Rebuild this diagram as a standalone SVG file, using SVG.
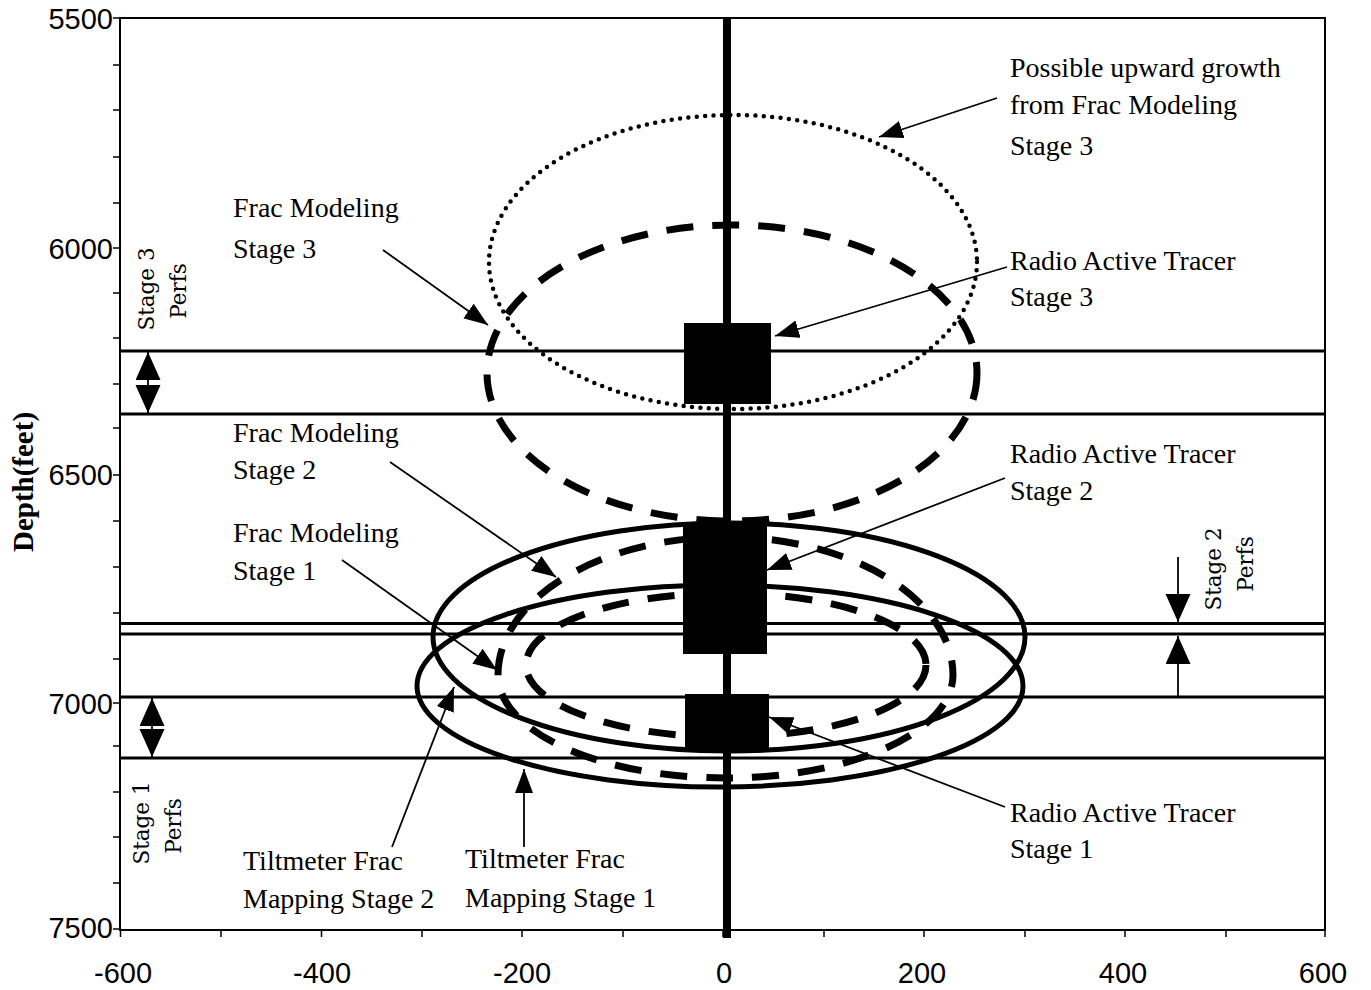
<svg xmlns="http://www.w3.org/2000/svg" width="1371" height="990" viewBox="0 0 1371 990">
<style>
.t{font-family:"Liberation Serif","Times New Roman",serif;font-size:28px;fill:#000}
.r{font-family:"DejaVu Serif",serif;font-size:21.5px;fill:#000;text-anchor:middle}
.ax{font-family:"Liberation Sans",Arial,sans-serif;font-size:29px;fill:#000}
.lead{stroke:#000;stroke-width:1.8;fill:none}
.perf{stroke:#000;stroke-width:3;fill:none}
.sol{stroke:#000;stroke-width:5;fill:none}
.dash{stroke:#000;stroke-width:7;fill:none;stroke-dasharray:27 19}
.dot{stroke:#000;stroke-width:4.5;fill:none;stroke-dasharray:0 8.4;stroke-linecap:round}
</style>
<defs>
<marker id="ah" markerUnits="userSpaceOnUse" markerWidth="26" markerHeight="20" refX="24" refY="9" orient="auto"><path d="M0,0 L24,9 L0,18 z" fill="#000"/></marker>
<marker id="big" markerUnits="userSpaceOnUse" markerWidth="30" markerHeight="26" refX="28" refY="12.5" orient="auto-start-reverse"><path d="M0,0 L28,12.5 L0,25 z" fill="#000"/></marker>
</defs>
<rect width="1371" height="990" fill="#fff"/>

<g id="axes">
<rect x="120" y="18" width="1205" height="912" fill="none" stroke="#000" stroke-width="2"/>
<g stroke="#000" stroke-width="1.5">
<line x1="113" y1="18" x2="120" y2="18"/><line x1="113" y1="65" x2="120" y2="65"/><line x1="113" y1="110" x2="120" y2="110"/><line x1="113" y1="157" x2="120" y2="157"/><line x1="113" y1="203" x2="120" y2="203"/><line x1="113" y1="248" x2="120" y2="248"/><line x1="113" y1="293" x2="120" y2="293"/><line x1="113" y1="338" x2="120" y2="338"/><line x1="113" y1="384" x2="120" y2="384"/><line x1="113" y1="428" x2="120" y2="428"/><line x1="113" y1="475" x2="120" y2="475"/><line x1="113" y1="521" x2="120" y2="521"/><line x1="113" y1="567" x2="120" y2="567"/><line x1="113" y1="613" x2="120" y2="613"/><line x1="113" y1="659" x2="120" y2="659"/><line x1="113" y1="703" x2="120" y2="703"/><line x1="113" y1="746" x2="120" y2="746"/><line x1="113" y1="792" x2="120" y2="792"/><line x1="113" y1="837" x2="120" y2="837"/><line x1="113" y1="883" x2="120" y2="883"/><line x1="113" y1="929" x2="120" y2="929"/>
<line x1="120.5" y1="930" x2="120.5" y2="937"/><line x1="221" y1="930" x2="221" y2="937"/><line x1="321.5" y1="930" x2="321.5" y2="937"/><line x1="422" y1="930" x2="422" y2="937"/><line x1="522" y1="930" x2="522" y2="937"/><line x1="623" y1="930" x2="623" y2="937"/><line x1="723" y1="930" x2="723" y2="937"/><line x1="824" y1="930" x2="824" y2="937"/><line x1="924" y1="930" x2="924" y2="937"/><line x1="1025" y1="930" x2="1025" y2="937"/><line x1="1125" y1="930" x2="1125" y2="937"/><line x1="1226" y1="930" x2="1226" y2="937"/><line x1="1325" y1="930" x2="1325" y2="937"/>
</g>
<g class="ax" text-anchor="end">
<text x="113" y="29">5500</text><text x="113" y="259">6000</text><text x="113" y="485">6500</text><text x="113" y="714">7000</text><text x="113" y="938">7500</text>
</g>
<g class="ax" text-anchor="middle">
<text x="123" y="983">-600</text><text x="322" y="983">-400</text><text x="522" y="983">-200</text><text x="724" y="983">0</text><text x="922" y="983">200</text><text x="1123" y="983">400</text><text x="1323" y="983">600</text>
</g>
<text transform="translate(33,482) rotate(-90)" text-anchor="middle" font-family="Liberation Serif,Times New Roman,serif" font-weight="bold" font-size="29">Depth(feet)</text>
</g>

<g id="perf-lines">
<line class="perf" x1="120" y1="351" x2="1325" y2="351"/>
<line class="perf" x1="120" y1="414" x2="1325" y2="414"/>
<line class="perf" x1="120" y1="623.5" x2="1325" y2="623.5" stroke-width="2.2"/>
<line class="perf" x1="120" y1="634" x2="1325" y2="634"/>
<line class="perf" x1="120" y1="697" x2="1325" y2="697"/>
<line class="perf" x1="120" y1="758" x2="1325" y2="758"/>
</g>

<g id="well">
<line x1="727" y1="18" x2="727" y2="938" stroke="#000" stroke-width="8"/>
</g>

<g id="upward-growth-stage3">
<ellipse class="dot" cx="733" cy="262" rx="244" ry="147"/>
</g>
<g id="frac-model-stage3">
<ellipse class="dash" cx="732" cy="373" rx="245" ry="148"/>
</g>
<g id="tiltmeter-stage1">
<ellipse class="sol" cx="729" cy="637" rx="296" ry="114"/>
</g>
<g id="tiltmeter-stage2">
<ellipse class="sol" cx="720" cy="686" rx="303" ry="101"/>
</g>
<g id="frac-model-stage2">
<path class="dash" d="M726,537 A227,138 0 0 1 953,675 A227,103 0 0 1 726,778 A228,103 0 0 1 498,675 A228,138 0 0 1 726,537 Z"/>
</g>
<g id="frac-model-stage1">
<ellipse class="dash" cx="726" cy="665" rx="200" ry="72"/>
</g>

<g id="tracer-stage3"><rect x="684" y="323" width="87" height="81" fill="#000"/></g>
<g id="tracer-stage2"><rect x="683" y="522" width="84" height="132" fill="#000"/></g>
<g id="tracer-stage1"><rect x="685" y="694" width="84" height="57" fill="#000"/></g>

<g id="connectors">
<line class="lead" x1="997" y1="98" x2="879" y2="137" marker-end="url(#ah)"/>
<line class="lead" x1="1007" y1="267" x2="775" y2="336" marker-end="url(#ah)"/>
<line class="lead" x1="383" y1="250" x2="488" y2="325" marker-end="url(#ah)"/>
<line class="lead" x1="390" y1="462" x2="556" y2="577" marker-end="url(#ah)"/>
<line class="lead" x1="342" y1="560" x2="497" y2="670" marker-end="url(#ah)"/>
<line class="lead" x1="1005" y1="478" x2="767" y2="570" marker-end="url(#ah)"/>
<line class="lead" x1="1005" y1="807" x2="769" y2="717" marker-end="url(#ah)"/>
<line class="lead" x1="392" y1="847" x2="454" y2="687" marker-end="url(#ah)"/>
<line class="lead" x1="524" y1="847" x2="524" y2="769" marker-end="url(#ah)"/>
<line class="lead" x1="148" y1="352" x2="148" y2="413" marker-start="url(#big)" marker-end="url(#big)"/>
<line class="lead" x1="152" y1="698" x2="152" y2="757" marker-start="url(#big)" marker-end="url(#big)"/>
<line class="lead" x1="1178" y1="557" x2="1178" y2="622" marker-end="url(#big)"/>
<line class="lead" x1="1178" y1="697" x2="1178" y2="636" marker-end="url(#big)"/>
</g>

<g id="label-upward"><text class="t" x="1010" y="77">Possible upward growth</text><text class="t" x="1010" y="114">from Frac Modeling</text><text class="t" x="1010" y="155">Stage 3</text></g>
<g id="label-rat3"><text class="t" x="1010" y="270">Radio Active Tracer</text><text class="t" x="1010" y="306">Stage 3</text></g>
<g id="label-fm3"><text class="t" x="233" y="217">Frac Modeling</text><text class="t" x="233" y="258">Stage 3</text></g>
<g id="label-fm2"><text class="t" x="233" y="442">Frac Modeling</text><text class="t" x="233" y="479">Stage 2</text></g>
<g id="label-fm1"><text class="t" x="233" y="542">Frac Modeling</text><text class="t" x="233" y="580">Stage 1</text></g>
<g id="label-rat2"><text class="t" x="1010" y="463">Radio Active Tracer</text><text class="t" x="1010" y="500">Stage 2</text></g>
<g id="label-rat1"><text class="t" x="1010" y="822">Radio Active Tracer</text><text class="t" x="1010" y="858">Stage 1</text></g>
<g id="label-tm2"><text class="t" x="243" y="870">Tiltmeter Frac</text><text class="t" x="243" y="908">Mapping Stage 2</text></g>
<g id="label-tm1"><text class="t" x="465" y="868">Tiltmeter Frac</text><text class="t" x="465" y="907">Mapping Stage 1</text></g>
<g id="label-perfs3"><text class="r" transform="translate(154,289) rotate(-90)">Stage 3</text><text class="r" transform="translate(186,291) rotate(-90)">Perfs</text></g>
<g id="label-perfs1"><text class="r" transform="translate(149,823) rotate(-90)">Stage 1</text><text class="r" transform="translate(181,826) rotate(-90)">Perfs</text></g>
<g id="label-perfs2"><text class="r" transform="translate(1221,569) rotate(-90)">Stage 2</text><text class="r" transform="translate(1253,564) rotate(-90)">Perfs</text></g>
</svg>
